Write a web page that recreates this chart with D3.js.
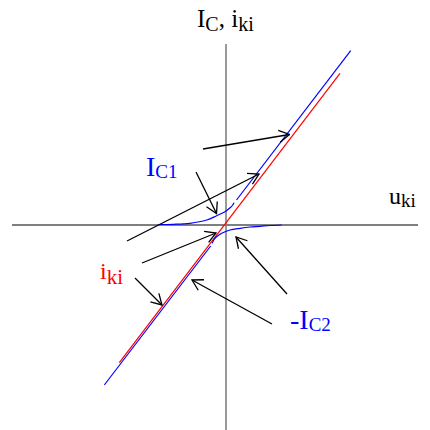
<!DOCTYPE html>
<html>
<head>
<meta charset="utf-8">
<script src="https://cdn.jsdelivr.net/npm/d3@7"></script>
<style>
  html, body { margin: 0; padding: 0; background: #fff; }
  svg { display: block; }
  text { font-family: "Liberation Serif", "Times New Roman", serif; }
</style>
</head>
<body>
<svg id="chart" width="430" height="430"></svg>
<script>
// Axis extents (u_ki horizontally, I_C / i_ki vertically)
const uExtent = [-21.4, 19.2];
const iExtent = [-20.5, 18.1];

// i_ki = I_C1 - I_C2 : straight line through the origin
const ikiLine = [[-10.67, -13.77], [11.4, 15.17]];

// I_C1 : bend below the knee, then its straight part
const ic1Bend = [[-6.77, 0.05], [-5.27, 0.07], [-3.6, 0.17], [-1.93, 0.5], [-0.93, 0.93],
                 [-0.1, 1.33], [0.47, 1.77], [0.67, 2.0], [0.8, 2.23]];
const ic1Line = [[1.05, 2.5], [12.47, 17.43]];

// -I_C2 : bend to the right of the origin, then its straight part
const ic2Bend = [[5.57, 0], [4.4, -0.05], [3.4, -0.13], [2.4, -0.2], [1.4, -0.33], [0.4, -0.5],
                 [-0.43, -0.83], [-1.0, -1.23], [-1.27, -1.57], [-1.37, -1.83]];
const ic2Line = [[-1.53, -2.1], [-12.17, -16.0]];

// Pointer arrows: [from, to]
const arrows = [
  [[-2.3, 7.6], [6.35, 9.05]],
  [[-9.9, -1.6], [3.3, 5.1]],
  [[-3.0, 5.3], [-0.95, 1.15]],
  [[-8.4, -3.8], [-1.0, -0.8]],
  [[-9.1, -5.3], [-6.4, -8.0]],
  [[4.6, -9.9], [-3.4, -5.5]],
  [[6.1, -6.9], [1.0, -1.2]]
];

const svg = d3.select("#chart");
const x = d3.scaleLinear().domain(uExtent).range([12, 418]);
const y = d3.scaleLinear().domain(iExtent).range([430, 44]);

const line = d3.line().x(d => x(d[0])).y(d => y(d[1]));
const smooth = d3.line().x(d => x(d[0])).y(d => y(d[1])).curve(d3.curveCatmullRom.alpha(0.5));

// arrowhead
svg.append("defs").append("marker")
  .attr("id", "head")
  .attr("markerUnits", "userSpaceOnUse")
  .attr("viewBox", "-13 -8 14 16")
  .attr("refX", 0).attr("refY", 0)
  .attr("markerWidth", 14).attr("markerHeight", 16)
  .attr("orient", "auto")
  .append("path")
  .attr("d", "M-10.4,-6L0,0L-10.4,6")
  .attr("fill", "none")
  .attr("stroke", "#000")
  .attr("stroke-width", 1.3);

// axes
svg.append("line")
  .attr("x1", x(uExtent[0])).attr("x2", x(uExtent[1]))
  .attr("y1", y(0)).attr("y2", y(0))
  .attr("stroke", "#000").attr("stroke-width", 1.2);
svg.append("line")
  .attr("x1", x(0)).attr("x2", x(0))
  .attr("y1", y(iExtent[0])).attr("y2", y(iExtent[1]))
  .attr("stroke", "#777").attr("stroke-width", 1.5);

// characteristic curves
svg.append("path").attr("d", line(ikiLine))
  .attr("fill", "none").attr("stroke", "#ff0000").attr("stroke-width", 1.2);
[ic1Bend, ic2Bend].forEach(pts => {
  svg.append("path").attr("d", smooth(pts))
    .attr("fill", "none").attr("stroke", "#0000ff").attr("stroke-width", 1.2);
});
[ic1Line, ic2Line].forEach(pts => {
  svg.append("path").attr("d", line(pts))
    .attr("fill", "none").attr("stroke", "#0000ff").attr("stroke-width", 1.2);
});

// pointers
arrows.forEach(a => {
  svg.append("line")
    .attr("x1", x(a[0][0])).attr("y1", y(a[0][1]))
    .attr("x2", x(a[1][0])).attr("y2", y(a[1][1]))
    .attr("stroke", "#000").attr("stroke-width", 1.3)
    .attr("marker-end", "url(#head)");
});

// labels with subscripts
function label(px, py, parts, color, mainSize, subSize, subShift) {
  const t = svg.append("text").attr("x", px).attr("y", py).attr("fill", color);
  let shifted = false;
  parts.forEach(p => {
    const sp = t.append("tspan").text(p.t);
    if (p.sub && !shifted) { sp.attr("dy", subShift).attr("font-size", subSize); shifted = true; }
    else if (p.sub) { sp.attr("font-size", subSize); }
    else if (!p.sub && shifted) { sp.attr("dy", -subShift).attr("font-size", mainSize); shifted = false; }
    else { sp.attr("font-size", mainSize); }
  });
  return t;
}

label(197, 27, [{t: "I"}, {t: "C", sub: true}, {t: ", i"}, {t: "ki", sub: true}], "#000", 25, 20, 4);
label(389, 204, [{t: "u"}, {t: "ki", sub: true}], "#000", 24, 19, 3);
label(146, 176, [{t: "I"}, {t: "C1", sub: true}], "#0000ff", 28, 19, 2);
label(100, 279, [{t: "i"}, {t: "ki", sub: true}], "#ff0000", 24, 21, 5);
label(290, 329, [{t: "-I"}, {t: "C2", sub: true}], "#0000ff", 28, 19, 2);
</script>
</body>
</html>
